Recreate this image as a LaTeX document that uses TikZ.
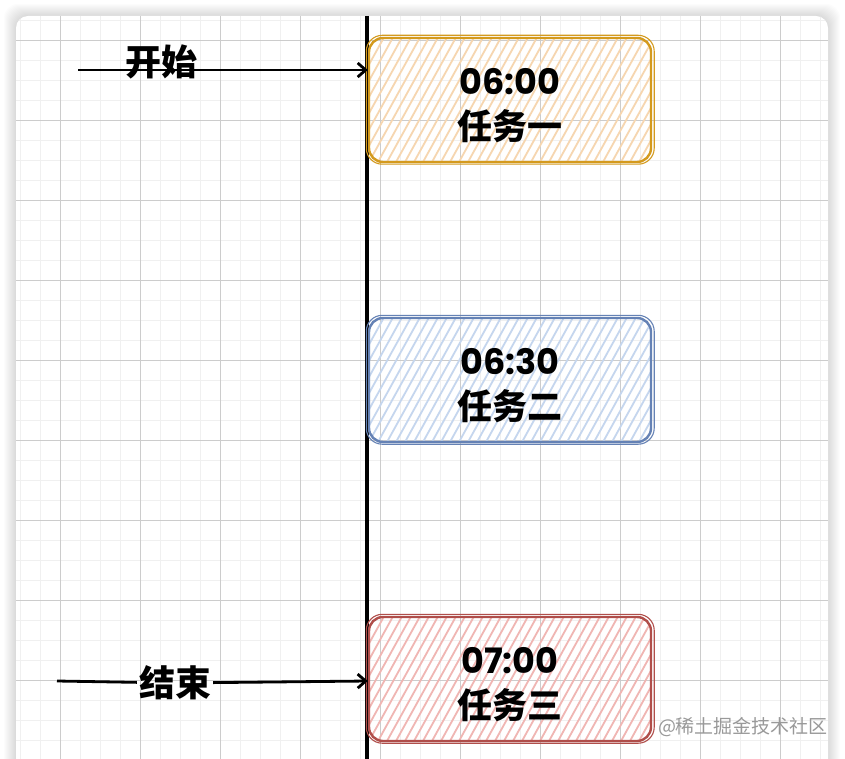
\documentclass[tikz,border=0pt]{standalone}
\usepackage{fontspec}
\usepackage{xcolor}
\usetikzlibrary{arrows.meta}
\newfontfamily\cjk{Noto Sans CJK SC}
\newfontfamily\numfont{Poppins}
\definecolor{orangeline}{HTML}{D49A1E}
\definecolor{orangefill}{HTML}{F6D6B0}
\definecolor{blueline}{HTML}{6582B5}
\definecolor{bluefill}{HTML}{C5D6EE}
\definecolor{redline}{HTML}{B04E4A}
\definecolor{redfill}{HTML}{F0B6B3}

\begin{document}
\begin{tikzpicture}[x=1pt,y=-1pt,
    gridminor/.style={draw=black!6,line width=0.8pt},
    gridmajor/.style={draw=black!20,line width=0.8pt},
    taskbox/.style 2 args={draw=#2,line width=2.4pt,rounded corners=14pt,
        minimum width=282pt,minimum height=124pt,align=center,
        font=\fontsize{35}{45}\selectfont,
        path picture={\foreach \k in {0,9,...,378}
            \draw[#1,line width=1.8pt] ([xshift={\k pt-90pt}]path picture bounding box.south west) -- ++(72pt,130pt);}},
    lbl/.style={font=\cjk\bfseries\fontsize{36}{36}\selectfont,inner sep=2pt},
    arr/.style={line width=2.8pt,-{Straight Barb[length=8pt,width=14pt]}}]
        \useasboundingbox (0,0) rectangle (845,759);
        \fill[white] (0,0) rectangle (845,759);
        \foreach \s in {1,...,12}
            \fill[black,opacity=0.013,rounded corners=14pt] (16-\s,16-\s) rectangle (828+\s,790);
        \fill[white,rounded corners=12pt] (16,16) rectangle (828,790);

        \begin{scope}
            \clip[rounded corners=12pt] (16,16) rectangle (828,790);
            \foreach \x in {20,40,...,820} \draw[gridminor] (\x,16) -- (\x,790);
            \foreach \y in {20,40,...,760} \draw[gridminor] (16,\y) -- (828,\y);
            \foreach \x in {60,140,...,780} \draw[gridmajor] (\x,16) -- (\x,790);
            \foreach \y in {40,120,...,680} \draw[gridmajor] (16,\y) -- (828,\y);
        \end{scope}

        \draw[line width=3.4pt] (367,16) -- (367,759);

        \node[taskbox={orangefill}{orangeline}] (taskA) at (510,100) {\rule{0pt}{38pt}{\numfont\bfseries 06:00}\\{\cjk\bfseries 任务一}};
        \node[taskbox={bluefill}{blueline}] (taskB) at (510,380) {\rule{0pt}{38pt}{\numfont\bfseries 06:30}\\{\cjk\bfseries 任务二}};
        \node[taskbox={redfill}{redline}] (taskC) at (510,679) {\rule{0pt}{38pt}{\numfont\bfseries 07:00}\\{\cjk\bfseries 任务三}};
        \foreach \n/\c in {taskA/orangeline,taskB/blueline,taskC/redline}
            \draw[\c,line width=1.1pt,rounded corners=16pt] ([shift={(-1.5pt,1.5pt)}]\n.north west) rectangle ([shift={(2pt,-1pt)}]\n.south east);

        \coordinate (s0) at (78,70);
        \node[lbl] (startlbl) at (161,62) {开始};
        \draw[arr] (s0) -- (s0 -| taskA.west);

        \coordinate (e0) at (57,681);
        \node[lbl] (endlbl) at (175,683) {结束};
        \draw[arr] (e0) -- (endlbl) -- (e0 -| taskC.west);

        \node[text=black!40,font=\cjk\fontsize{19}{19}\selectfont] (mark) at (743,727) {@稀土掘金技术社区};
    \end{tikzpicture}
\end{document}
